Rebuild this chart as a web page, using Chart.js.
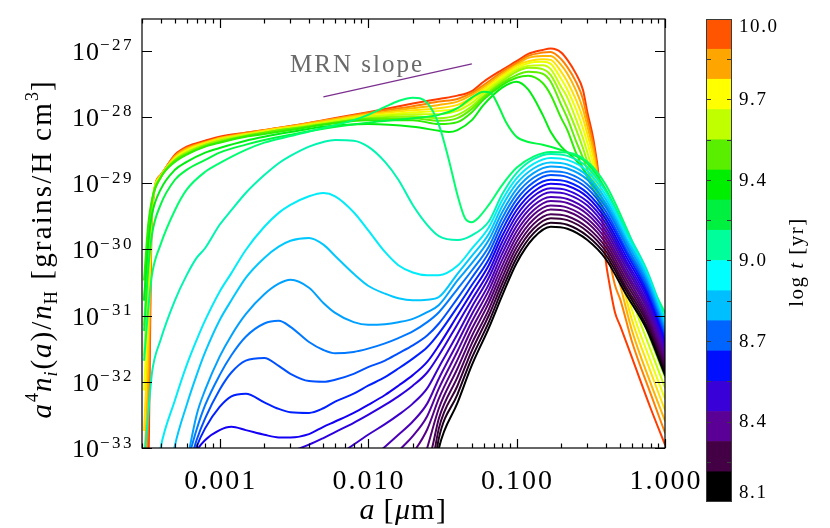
<!DOCTYPE html>
<html><head><meta charset="utf-8">
<script src="https://cdn.jsdelivr.net/npm/chart.js@4.4.1/dist/chart.umd.min.js"></script>
<style>
html,body{margin:0;padding:0;background:#fff;}
#wrap{position:relative;width:830px;height:528px;overflow:hidden;}
#main{position:absolute;left:0;top:0;}
#cbar{position:absolute;left:690px;top:0;}
</style></head><body>
<div id="wrap"><canvas id="main" width="830" height="528"></canvas><canvas id="cbar" width="140" height="528"></canvas></div>
<script>
// ---------------- DATA (grain size a in micron, log10 of a^4 n_i(a)/n_H) ----------------
// early snapshots (black -> aqua): [a, log10 value]
const B0 = [[0.027,-33.6],[0.03,-33.00],[0.04,-32.32],[0.05,-31.75],[0.065,-31.19],[0.08,-30.70],[0.1,-30.21],[0.13,-29.83],[0.17,-29.66],[0.22,-29.69],[0.3,-29.86],[0.4,-30.15],[0.55,-30.69],[0.75,-31.20],[1.0,-31.90]];
const B1 = [[0.027,-33.5],[0.03,-32.85],[0.04,-32.19],[0.05,-31.64],[0.065,-31.10],[0.08,-30.61],[0.1,-30.13],[0.13,-29.76],[0.17,-29.60],[0.22,-29.63],[0.3,-29.80],[0.4,-30.09],[0.55,-30.63],[0.75,-31.15],[1.0,-31.85]];
const B2 = [[0.026,-33.5],[0.03,-32.70],[0.04,-32.06],[0.05,-31.53],[0.065,-31.00],[0.08,-30.52],[0.1,-30.05],[0.13,-29.69],[0.17,-29.53],[0.22,-29.56],[0.3,-29.73],[0.4,-30.03],[0.55,-30.58],[0.75,-31.09],[1.0,-31.80]];
const B3 = [[0.024,-33.4],[0.027,-33.0],[0.03,-32.55],[0.04,-31.93],[0.05,-31.42],[0.065,-30.91],[0.08,-30.43],[0.1,-29.97],[0.13,-29.62],[0.17,-29.47],[0.22,-29.50],[0.3,-29.67],[0.4,-29.97],[0.55,-30.52],[0.75,-31.04],[1.0,-31.75]];
const B4 = [[0.022,-33.4],[0.025,-33.0],[0.03,-32.40],[0.04,-31.80],[0.05,-31.31],[0.065,-30.81],[0.08,-30.34],[0.1,-29.89],[0.13,-29.55],[0.17,-29.40],[0.22,-29.43],[0.3,-29.60],[0.4,-29.91],[0.55,-30.46],[0.75,-30.99],[1.0,-31.70]];
const B5 = [[0.016,-33.35],[0.02,-33.08],[0.025,-32.72],[0.03,-32.25],[0.04,-31.67],[0.05,-31.20],[0.065,-30.72],[0.08,-30.25],[0.1,-29.81],[0.13,-29.48],[0.17,-29.34],[0.22,-29.37],[0.3,-29.54],[0.4,-29.85],[0.55,-30.40],[0.75,-30.94],[1.0,-31.65]];
const B6 = [[0.013,-33.3],[0.016,-33.05],[0.02,-32.82],[0.025,-32.52],[0.03,-32.10],[0.04,-31.54],[0.05,-31.09],[0.065,-30.62],[0.08,-30.16],[0.1,-29.73],[0.13,-29.41],[0.17,-29.27],[0.22,-29.30],[0.3,-29.47],[0.4,-29.79],[0.55,-30.35],[0.75,-30.88],[1.0,-31.60]];
const B7 = [[0.01,-33.2],[0.013,-32.98],[0.016,-32.80],[0.02,-32.60],[0.025,-32.33],[0.03,-31.95],[0.04,-31.41],[0.05,-30.98],[0.065,-30.53],[0.08,-30.07],[0.1,-29.65],[0.13,-29.34],[0.17,-29.21],[0.22,-29.24],[0.3,-29.41],[0.4,-29.73],[0.55,-30.29],[0.75,-30.83],[1.0,-31.55]];
const B8 = [[0.005,-33.35],[0.006,-33.15],[0.008,-32.95],[0.01,-32.80],[0.013,-32.64],[0.016,-32.50],[0.02,-32.33],[0.025,-32.10],[0.03,-31.78],[0.04,-31.28],[0.05,-30.87],[0.065,-30.43],[0.08,-29.98],[0.1,-29.57],[0.13,-29.27],[0.17,-29.14],[0.22,-29.17],[0.3,-29.34],[0.4,-29.67],[0.55,-30.23],[0.75,-30.78],[1.0,-31.50]];
const B9 = [[0.0007,-33.6],[0.001,-33.12],[0.0015,-33.1],[0.002,-33.12],[0.003,-33.05],[0.004,-32.95],[0.005,-32.85],[0.006,-32.76],[0.008,-32.62],[0.01,-32.50],[0.013,-32.35],[0.016,-32.22],[0.02,-32.06],[0.025,-31.86],[0.03,-31.60],[0.04,-31.13],[0.05,-30.76],[0.065,-30.34],[0.08,-29.89],[0.1,-29.49],[0.13,-29.20],[0.17,-29.08],[0.22,-29.11],[0.3,-29.28],[0.4,-29.61],[0.55,-30.18],[0.75,-30.72],[1.0,-31.45]];
const B10 = [[0.0006,-33.5],[0.0007,-33.05],[0.0008,-32.88],[0.001,-32.73],[0.0012,-32.68],[0.0015,-32.73],[0.002,-32.80],[0.0025,-32.84],[0.003,-32.84],[0.004,-32.79],[0.005,-32.68],[0.006,-32.60],[0.008,-32.47],[0.01,-32.35],[0.013,-32.20],[0.016,-32.06],[0.02,-31.90],[0.025,-31.70],[0.03,-31.45],[0.04,-31.00],[0.05,-30.65],[0.065,-30.24],[0.08,-29.80],[0.1,-29.41],[0.13,-29.13],[0.17,-29.01],[0.22,-29.04],[0.3,-29.21],[0.4,-29.55],[0.55,-30.12],[0.75,-30.67],[1.0,-31.40]];
const B11 = [[0.00065,-33.2],[0.0007,-32.98],[0.0008,-32.70],[0.001,-32.38],[0.0012,-32.22],[0.0015,-32.18],[0.002,-32.31],[0.0025,-32.41],[0.003,-32.46],[0.004,-32.47],[0.005,-32.40],[0.006,-32.30],[0.008,-32.18],[0.01,-32.06],[0.013,-31.93],[0.016,-31.80],[0.02,-31.65],[0.025,-31.48],[0.03,-31.27],[0.04,-30.87],[0.05,-30.54],[0.065,-30.15],[0.08,-29.71],[0.1,-29.33],[0.13,-29.06],[0.17,-28.95],[0.22,-28.98],[0.3,-29.15],[0.4,-29.49],[0.55,-30.06],[0.75,-30.62],[1.0,-31.35]];
const B12 = [[0.0006,-33.4],[0.0007,-32.88],[0.0008,-32.55],[0.001,-32.12],[0.0012,-31.86],[0.0015,-31.68],[0.002,-31.64],[0.0025,-31.76],[0.003,-31.88],[0.004,-31.99],[0.005,-32.0],[0.006,-31.97],[0.008,-31.88],[0.01,-31.78],[0.013,-31.68],[0.016,-31.57],[0.02,-31.45],[0.025,-31.30],[0.03,-31.12],[0.04,-30.74],[0.05,-30.43],[0.065,-30.05],[0.08,-29.62],[0.1,-29.25],[0.13,-28.99],[0.17,-28.88],[0.22,-28.91],[0.3,-29.08],[0.4,-29.43],[0.55,-30.01],[0.75,-30.56],[1.0,-31.30]];
const B13 = [[0.0006,-33.25],[0.0007,-32.72],[0.0008,-32.35],[0.001,-31.90],[0.0012,-31.60],[0.0015,-31.32],[0.002,-31.12],[0.0025,-31.08],[0.003,-31.17],[0.004,-31.40],[0.005,-31.52],[0.006,-31.57],[0.008,-31.55],[0.01,-31.50],[0.013,-31.42],[0.016,-31.34],[0.02,-31.24],[0.025,-31.10],[0.03,-30.95],[0.04,-30.60],[0.05,-30.32],[0.065,-29.96],[0.08,-29.53],[0.1,-29.17],[0.13,-28.92],[0.17,-28.82],[0.22,-28.85],[0.3,-29.02],[0.4,-29.37],[0.55,-29.95],[0.75,-30.51],[1.0,-31.25]];
const B14 = [[0.00058,-33.4],[0.0007,-32.50],[0.0008,-32.12],[0.001,-31.62],[0.0012,-31.30],[0.0015,-30.98],[0.002,-30.68],[0.0025,-30.52],[0.003,-30.46],[0.004,-30.58],[0.005,-30.81],[0.006,-30.96],[0.008,-31.10],[0.01,-31.14],[0.013,-31.13],[0.016,-31.10],[0.02,-31.05],[0.025,-30.95],[0.03,-30.84],[0.04,-30.47],[0.05,-30.21],[0.065,-29.86],[0.08,-29.44],[0.1,-29.09],[0.13,-28.85],[0.17,-28.75],[0.22,-28.78],[0.3,-28.95],[0.4,-29.31],[0.55,-29.89],[0.75,-30.46],[1.0,-31.20]];
const B15 = [[0.00046,-33.4],[0.0005,-32.96],[0.0006,-32.35],[0.0007,-31.90],[0.0008,-31.55],[0.001,-31.07],[0.0012,-30.77],[0.0015,-30.43],[0.002,-30.13],[0.0025,-29.96],[0.003,-29.87],[0.004,-29.83],[0.005,-29.93],[0.006,-30.10],[0.008,-30.37],[0.01,-30.55],[0.013,-30.67],[0.016,-30.74],[0.02,-30.77],[0.025,-30.76],[0.03,-30.72],[0.04,-30.37],[0.05,-30.10],[0.065,-29.77],[0.08,-29.35],[0.1,-29.01],[0.13,-28.78],[0.17,-28.69],[0.22,-28.72],[0.3,-28.89],[0.4,-29.25],[0.55,-29.84],[0.75,-30.40],[1.0,-31.15]];
const B16 = [[0.00037,-33.5],[0.0004,-33.0],[0.0005,-32.28],[0.0006,-31.75],[0.0007,-31.37],[0.0008,-31.07],[0.001,-30.64],[0.0012,-30.36],[0.0015,-30.01],[0.002,-29.66],[0.0025,-29.45],[0.003,-29.33],[0.004,-29.20],[0.005,-29.15],[0.006,-29.20],[0.008,-29.44],[0.01,-29.71],[0.013,-30.04],[0.016,-30.24],[0.02,-30.35],[0.025,-30.39],[0.03,-30.39],[0.04,-30.25],[0.05,-29.99],[0.065,-29.67],[0.08,-29.26],[0.1,-28.93],[0.13,-28.71],[0.17,-28.62],[0.22,-28.65],[0.3,-28.82],[0.4,-29.19],[0.55,-29.78],[0.75,-30.35],[1.0,-31.10]];
const B17 = [[0.00031,-33.2],[0.00033,-32.5],[0.00035,-31.87],[0.0004,-31.37],[0.0005,-30.77],[0.0006,-30.39],[0.0007,-30.13],[0.0008,-29.98],[0.001,-29.63],[0.0012,-29.41],[0.0015,-29.15],[0.002,-28.88],[0.0025,-28.70],[0.003,-28.59],[0.004,-28.45],[0.005,-28.38],[0.006,-28.35],[0.008,-28.36],[0.01,-28.45],[0.013,-28.68],[0.016,-28.95],[0.02,-29.33],[0.025,-29.63],[0.03,-29.80],[0.04,-29.86],[0.05,-29.79],[0.065,-29.58],[0.08,-29.17],[0.1,-28.85],[0.13,-28.64],[0.17,-28.56],[0.22,-28.59],[0.3,-28.76],[0.4,-29.13],[0.55,-29.72],[0.75,-30.30],[1.0,-31.05]];
// intermediate (green) snapshots
const G1 = [[0.00031,-31.67],[0.00033,-30.92],[0.00035,-30.39],[0.0004,-29.93],[0.0005,-29.41],[0.0006,-29.10],[0.0008,-28.83],[0.001,-28.70],[0.0015,-28.50],[0.002,-28.39],[0.003,-28.29],[0.005,-28.17],[0.008,-28.05],[0.01,-27.97],[0.013,-27.85],[0.016,-27.76],[0.02,-27.71],[0.025,-27.79],[0.03,-28.12],[0.035,-28.65],[0.04,-29.18],[0.045,-29.53],[0.05,-29.59],[0.055,-29.53],[0.065,-29.33],[0.08,-29.03],[0.1,-28.77],[0.13,-28.60],[0.17,-28.53],[0.22,-28.54],[0.3,-28.68],[0.4,-29.03],[0.55,-29.68],[0.75,-30.39],[1.0,-30.96]];
const G2 = [[0.00031,-31.22],[0.00033,-30.31],[0.00035,-29.78],[0.0004,-29.33],[0.0005,-28.95],[0.0006,-28.80],[0.0008,-28.65],[0.001,-28.54],[0.0015,-28.42],[0.002,-28.35],[0.003,-28.27],[0.005,-28.18],[0.01,-28.09],[0.02,-28.02],[0.03,-27.97],[0.04,-27.87],[0.05,-27.71],[0.06,-27.62],[0.067,-27.64],[0.075,-27.82],[0.085,-28.08],[0.1,-28.30],[0.12,-28.38],[0.15,-28.42],[0.2,-28.50],[0.25,-28.59],[0.3,-28.70],[0.4,-29.10],[0.55,-29.74],[0.75,-30.46],[1.0,-31.14]];
const G3 = [[0.00031,-30.76],[0.00033,-29.93],[0.00035,-29.48],[0.0004,-29.10],[0.0005,-28.80],[0.0006,-28.68],[0.0008,-28.54],[0.001,-28.47],[0.0015,-28.36],[0.002,-28.30],[0.003,-28.23],[0.005,-28.15],[0.01,-28.11],[0.02,-28.15],[0.03,-28.21],[0.035,-28.23],[0.04,-28.20],[0.05,-28.05],[0.06,-27.82],[0.08,-27.56],[0.1,-27.47],[0.12,-27.59],[0.15,-27.97],[0.17,-28.23],[0.2,-28.45],[0.25,-28.65],[0.3,-28.88],[0.4,-29.33],[0.55,-29.93],[0.75,-30.61],[1.0,-31.29]];
// late snapshots (green -> red) on a common size grid
const SIZES_LATE = [0.00031,0.00033,0.00035,0.0004,0.0005,0.0006,0.0008,0.001,0.0015,0.002,0.003,0.005,0.01,0.02,0.03,0.04,0.05,0.06,0.08,0.1,0.12,0.15,0.17,0.2,0.22,0.25,0.28,0.3,0.33,0.36,0.38,0.4,0.42,0.46,0.5,0.6,0.8,1.0];
const T0 = [-30.46,-29.63,-29.25,-28.92,-28.68,-28.57,-28.45,-28.39,-28.30,-28.26,-28.20,-28.12,-28.05,-28.05,-28.11,-28.08,-27.93,-27.74,-27.52,-27.41,-27.38,-27.49,-27.67,-28.02,-28.20,-28.53,-28.77,-28.92,-29.10,-29.30,-29.44,-29.56,-29.66,-29.83,-30.01,-30.39,-31.07,-31.55];
const T1 = [-30.76,-29.86,-29.28,-28.92,-28.66,-28.56,-28.44,-28.38,-28.29,-28.24,-28.18,-28.11,-28.03,-28.02,-28.06,-28.02,-27.88,-27.71,-27.49,-27.37,-27.32,-27.35,-27.47,-27.82,-28.02,-28.35,-28.62,-28.80,-29.03,-29.25,-29.41,-29.54,-29.66,-29.86,-30.05,-30.51,-31.22,-31.75];
const T2 = [-31.14,-30.13,-29.31,-28.92,-28.65,-28.54,-28.42,-28.36,-28.29,-28.24,-28.18,-28.11,-28.02,-27.99,-28.02,-27.97,-27.84,-27.68,-27.46,-27.32,-27.26,-27.28,-27.37,-27.67,-27.87,-28.17,-28.47,-28.68,-28.95,-29.22,-29.39,-29.54,-29.68,-29.90,-30.12,-30.64,-31.37,-31.93];
const T3 = [-31.60,-30.46,-29.35,-28.91,-28.65,-28.53,-28.42,-28.35,-28.27,-28.23,-28.17,-28.09,-28.00,-27.96,-27.96,-27.91,-27.79,-27.64,-27.43,-27.29,-27.23,-27.22,-27.28,-27.55,-27.71,-28.02,-28.32,-28.54,-28.85,-29.18,-29.38,-29.56,-29.71,-29.96,-30.19,-30.76,-31.52,-32.09];
const T4 = [-32.12,-30.84,-29.36,-28.91,-28.63,-28.51,-28.41,-28.35,-28.27,-28.23,-28.17,-28.09,-27.99,-27.93,-27.91,-27.87,-27.74,-27.61,-27.40,-27.26,-27.19,-27.17,-27.20,-27.43,-27.59,-27.87,-28.17,-28.39,-28.73,-29.13,-29.36,-29.57,-29.75,-30.04,-30.28,-30.92,-31.69,-32.26];
const T5 = [-32.73,-31.29,-29.39,-28.89,-28.62,-28.50,-28.39,-28.33,-28.26,-28.21,-28.15,-28.08,-27.97,-27.90,-27.87,-27.82,-27.71,-27.58,-27.38,-27.23,-27.16,-27.13,-27.14,-27.32,-27.47,-27.73,-28.02,-28.26,-28.62,-29.07,-29.35,-29.60,-29.81,-30.13,-30.40,-31.07,-31.85,-32.43];
const T6 = [-33.33,-31.82,-29.41,-28.89,-28.60,-28.48,-28.39,-28.32,-28.26,-28.21,-28.15,-28.06,-27.96,-27.87,-27.82,-27.77,-27.67,-27.55,-27.35,-27.22,-27.11,-27.08,-27.08,-27.22,-27.35,-27.59,-27.88,-28.14,-28.53,-29.03,-29.33,-29.65,-29.89,-30.25,-30.55,-31.23,-32.02,-32.59];
const T7 = [-33.78,-32.58,-29.44,-28.88,-28.59,-28.47,-28.38,-28.32,-28.24,-28.20,-28.14,-28.06,-27.94,-27.84,-27.77,-27.73,-27.64,-27.52,-27.32,-27.19,-27.08,-27.03,-27.02,-27.13,-27.25,-27.46,-27.73,-28.03,-28.44,-28.98,-29.41,-29.83,-30.12,-30.54,-30.76,-31.40,-32.18,-32.77];
const T8 = [-34.09,-33.48,-29.48,-28.88,-28.57,-28.45,-28.36,-28.30,-28.24,-28.20,-28.14,-28.05,-27.93,-27.80,-27.73,-27.68,-27.61,-27.47,-27.29,-27.16,-27.05,-26.99,-26.97,-27.03,-27.14,-27.34,-27.59,-27.93,-28.35,-28.95,-29.63,-30.19,-30.49,-30.95,-31.16,-31.64,-32.40,-32.95];
// snapshot ages (log t [yr])
const AGES_EARLY = [8.100,8.155,8.210,8.265,8.320,8.375,8.430,8.485,8.540,8.595,8.650,8.705,8.760,8.815,8.870,8.925,8.980,9.035];
const AGES_MID = [9.10,9.17,9.24];
const AGES_LATE = [9.31,9.39,9.47,9.55,9.63,9.71,9.79,9.87,10.0];
// MRN slope reference segment
const MRN_SIZES = [0.005, 0.05];
const MRN_VALUES = [2.0e-28, 6.3e-28];
// axes
const X_MAJOR = [0.001, 0.01, 0.1, 1.0];
const X_LABELS = ['0.001','0.010','0.100','1.000'];
const Y_MAJOR_EXP = [-33,-32,-31,-30,-29,-28,-27];
// colorbar
const CB_EDGES = [8.1,8.219,8.338,8.456,8.575,8.694,8.813,8.931,9.05,9.169,9.288,9.406,9.525,9.644,9.763,9.881,10.0];
const CB_TICKS = [8.1,8.4167,8.7333,9.05,9.3667,9.6833,10.0];
const CB_LABELS = ['8.1','8.4','8.7','9.0','9.4','9.7','10.0'];

// ---------------- STYLES ----------------
const COL_EARLY = ['#000000','#1e001e','#3a003a','#480058','#520070','#560088','#5400a0','#4a00b8','#3c00cc','#2c00e0','#1400f4','#0020ff','#0050ff','#0078ff','#00a0ff','#00c8ff','#00ecf8','#00f5b0'];
const COL_MID = ['#00ff70','#00f840','#00ee10'];
const COL_LATE = ['#30ee00','#60f000','#98f800','#c8ff00','#eeff00','#ffe000','#ffb400','#ff8000','#ff3c00'];
const CB_COLORS = ['#000000','#440044','#5a0096','#3a00d8','#0010ff','#0064ff','#00bfff','#00ffff','#00ff9a','#00f040','#00ee00','#5aef00','#c0ff00','#ffff00','#ffa500','#ff5500'];
const SERIF = '"Liberation Serif","Times New Roman",serif';

const early = [B0,B1,B2,B3,B4,B5,B6,B7,B8,B9,B10,B11,B12,B13,B14,B15,B16,B17];
const mid = [G1,G2,G3];
const late = [T0,T1,T2,T3,T4,T5,T6,T7,T8];

function lineDs(label, pts, color){
  return {label, data: pts, borderColor: color, borderWidth: 2, pointRadius: 0,
    fill: false, cubicInterpolationMode: 'monotone', borderJoinStyle: 'round', borderCapStyle: 'round'};
}
const datasets = [];
datasets.push({label:'MRN slope', data: MRN_SIZES.map((a,i)=>({x:a, y:MRN_VALUES[i]})),
  borderColor:'#7b2f8f', borderWidth:1.2, pointRadius:0, fill:false});
early.forEach((c,i)=>datasets.push(lineDs('log t = '+AGES_EARLY[i], c.map(p=>({x:p[0], y:Math.pow(10,p[1])})), COL_EARLY[i])));
mid.forEach((c,i)=>datasets.push(lineDs('log t = '+AGES_MID[i], c.map(p=>({x:p[0], y:Math.pow(10,p[1])})), COL_MID[i])));
late.forEach((c,i)=>datasets.push(lineDs('log t = '+AGES_LATE[i], SIZES_LATE.map((a,j)=>({x:a, y:Math.pow(10,c[j])})), COL_LATE[i])));

function setLS(ctx, v){ if ('letterSpacing' in ctx) ctx.letterSpacing = v + 'px'; }
function drawSegs(ctx, segs, x, y, align){
  const w = []; let total = 0;
  for (const s of segs){ ctx.font = s.font; setLS(ctx, s.ls||0); const m = ctx.measureText(s.t).width; w.push(m); total += m; }
  let cx = align === 'center' ? x - total/2 : (align === 'right' ? x - total : x);
  segs.forEach((s,i)=>{ ctx.font = s.font; setLS(ctx, s.ls||0); ctx.fillText(s.t, cx, y + (s.dy||0)); cx += w[i]; });
  setLS(ctx, 0);
  return total;
}

const frame = {
  id:'frame',
  afterDatasetsDraw(chart){
    const {ctx, chartArea:{left,right,top,bottom}, scales:{x,y}} = chart;
    ctx.save();
    ctx.strokeStyle = '#000'; ctx.lineWidth = 1.2;
    ctx.strokeRect(left, top, right-left, bottom-top);
    ctx.beginPath();
    for (let d=-4; d<=0; d++){
      for (let m=1; m<10; m++){
        const v = m*Math.pow(10,d);
        if (v < x.min*0.999 || v > x.max*1.001) continue;
        const px = Math.round(x.getPixelForValue(v)) + 0.5;
        const len = (m===1) ? 9 : 4.5;
        ctx.moveTo(px, bottom); ctx.lineTo(px, bottom-len);
        ctx.moveTo(px, top); ctx.lineTo(px, top+len);
      }
    }
    for (const e of Y_MAJOR_EXP){
      const py = Math.round(y.getPixelForValue(Math.pow(10,e))) + 0.5;
      ctx.moveTo(left, py); ctx.lineTo(left+10, py);
      ctx.moveTo(right, py); ctx.lineTo(right-10, py);
    }
    ctx.stroke();
    ctx.fillStyle = '#000'; ctx.textBaseline = 'alphabetic'; ctx.textAlign = 'left';
    // x tick labels
    X_MAJOR.forEach((v,i)=>{
      const px = x.getPixelForValue(v);
      drawSegs(ctx, [{t:X_LABELS[i], font:'28px '+SERIF, ls:2}], px+1, bottom+41, 'center');
    });
    // y tick labels
    Y_MAJOR_EXP.forEach(e=>{
      const py = y.getPixelForValue(Math.pow(10,e));
      drawSegs(ctx, [{t:'10', font:'26px '+SERIF, ls:1},{t:'\u2212'+String(-e), font:'17px '+SERIF, dy:-9.5, ls:2.5}], left-8, py+9, 'right');
    });
    // x title
    drawSegs(ctx, [{t:'a', font:'italic 30px '+SERIF},{t:' [', font:'30px '+SERIF, ls:1.5},{t:'\u03bc', font:'italic 30px '+SERIF, ls:1},{t:'m]', font:'30px '+SERIF, ls:1.5}], (left+right)/2, 519, 'center');
    // y title (rotated)
    ctx.save();
    ctx.translate(51, 250);
    ctx.rotate(-Math.PI/2);
    const F = '29px '+SERIF, FI = 'italic 29px '+SERIF, FS = '18px '+SERIF, FSI = 'italic 18px '+SERIF;
    drawSegs(ctx, [
      {t:'a', font:FI, ls:2},{t:'4', font:FS, dy:-13, ls:1},{t:'n', font:FI, ls:1},{t:'i', font:FSI, dy:6, ls:2},
      {t:'(', font:F, ls:2},{t:'a', font:FI, ls:2},{t:')/', font:F, ls:2},{t:'n', font:FI, ls:1},{t:'H', font:FS, dy:6, ls:2},
      {t:' [grains/H cm', font:F, ls:2.2},{t:'3', font:FS, dy:-13, ls:1},{t:']', font:F}
    ], 0, 0, 'center');
    ctx.restore();
    // MRN label
    ctx.fillStyle = '#6a6a6a';
    drawSegs(ctx, [{t:'MRN slope', font:'25px '+SERIF, ls:2}], 290, 72, 'left');
    ctx.restore();
  }
};

new Chart(document.getElementById('main'), {
  type:'line',
  data:{datasets},
  options:{
    responsive:false, animation:false, parsing:true,
    layout:{padding:{left:142, right:165, top:19, bottom:80}},
    scales:{
      x:{type:'logarithmic', min:3.04e-4, max:1.0, display:false},
      y:{type:'logarithmic', min:1e-33, max:3.0e-27, display:false}
    },
    plugins:{legend:{display:false}, tooltip:{enabled:false}}
  },
  plugins:[frame]
});

// ---------------- colorbar ----------------
const cbFrame = {
  id:'cbFrame',
  afterDatasetsDraw(chart){
    const {ctx, chartArea:{left,right,top,bottom}, scales:{y}} = chart;
    ctx.save();
    ctx.strokeStyle = '#3a3a3a'; ctx.lineWidth = 1;
    ctx.strokeRect(left+0.5, top+0.5, right-left-1, bottom-top-1);
    ctx.beginPath();
    for (let k=1; k<12; k++){
      const v = CB_TICKS[0] + (CB_TICKS[6]-CB_TICKS[0])*k/12;
      const py = Math.round(y.getPixelForValue(v)) + 0.5;
      ctx.moveTo(left, py); ctx.lineTo(left+5, py);
      ctx.moveTo(right, py); ctx.lineTo(right-5, py);
    }
    ctx.stroke();
    ctx.fillStyle = '#000'; ctx.textBaseline = 'middle'; ctx.textAlign = 'left';
    CB_TICKS.forEach((v,i)=>{
      let py = y.getPixelForValue(v);
      py = Math.max(py, top+7.5); py = Math.min(py, bottom-10);
      drawSegs(ctx, [{t:CB_LABELS[i], font:'19px '+SERIF, ls:1.6}], right+7, py+1, 'left');
    });
    ctx.textBaseline = 'alphabetic';
    ctx.save();
    ctx.translate(113, 262);
    ctx.rotate(-Math.PI/2);
    drawSegs(ctx, [{t:'log ', font:'21px '+SERIF, ls:1.5},{t:'t', font:'italic 21px '+SERIF, ls:1.5},{t:' [yr]', font:'21px '+SERIF, ls:1.5}], 0, 0, 'center');
    ctx.restore();
    ctx.restore();
  }
};

new Chart(document.getElementById('cbar'), {
  type:'bar',
  data:{labels:['log t'], datasets: CB_COLORS.map((c,k)=>({
    label:'band '+k, data:[[CB_EDGES[k], CB_EDGES[k+1]]], backgroundColor:c, borderWidth:0,
    grouped:false, barPercentage:1, categoryPercentage:1}))},
  options:{
    responsive:false, animation:false,
    layout:{padding:{left:16, right:98, top:19, bottom:26}},
    scales:{x:{display:false}, y:{min:8.1, max:10.0, display:false}},
    plugins:{legend:{display:false}, tooltip:{enabled:false}}
  },
  plugins:[cbFrame]
});
</script></body></html>
